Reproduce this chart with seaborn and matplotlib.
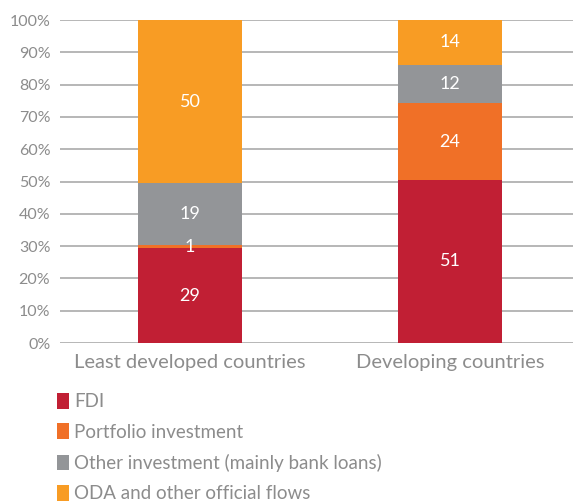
import pandas as pd
import seaborn as sns
import matplotlib.pyplot as plt
from matplotlib.patches import Patch

# data (percent shares)
groups = ["Least developed countries", "Developing countries"]
fdi = [29, 51]
portfolio = [1, 24]
other = [19, 12]
oda = [50, 14]

series = ["FDI", "Portfolio investment", "Other investment (mainly bank loans)",
          "ODA and other official flows"]
colors = ["#c11f34", "#f07027", "#939598", "#f89c24"]

df = pd.DataFrame({"group": groups, series[0]: fdi, series[1]: portfolio,
                   series[2]: other, series[3]: oda})

sns.set_theme(style="white")
plt.rcParams['font.family'] = ['Lato', 'DejaVu Sans']

fig = plt.figure(figsize=(5.73, 5.04), dpi=100)
ax = fig.add_axes([0.1047, 0.3194, 0.8953, 0.6409])

# the bars always fill to 100%, so scale each stack by its total
totals = df[series].sum(axis=1)
bottom = pd.Series([0.0] * len(df))
for name, col in zip(series, colors):
    share = df[name] / totals * 100
    sns.barplot(x=df["group"], y=share, bottom=bottom, color=col, width=0.4,
                saturation=1, edgecolor="none", ax=ax, zorder=3)
    for i, (b, s, v) in enumerate(zip(bottom, share, df[name])):
        ax.text(i, b + s / 2, str(v), ha="center", va="center", color="white",
                fontsize=13, zorder=4)
    bottom = bottom + share

ax.set_xlim(-0.5, 1.473)
ax.set_ylim(0, 100)
ax.set_yticks(range(0, 101, 10))
ax.set_yticklabels([f"{t}%" for t in range(0, 101, 10)])
ax.yaxis.grid(True, color="#a3a3a3", linewidth=1.1, zorder=0)
ax.set_xlabel("")
ax.set_ylabel("")
for s in ax.spines.values():
    s.set_visible(False)
ax.tick_params(axis="y", length=0, pad=7, labelsize=11.5, labelcolor="#8c8c8c")
ax.tick_params(axis="x", length=0, pad=8, labelsize=14.5, labelcolor="#8c8c8c")

handles = [Patch(facecolor=c, edgecolor="none") for c in colors]
leg = fig.legend(handles, series, loc="upper left", bbox_to_anchor=(0.087, 0.235),
                 frameon=False, fontsize=13.5, handlelength=0.6, handleheight=0.9,
                 handletextpad=0.3, labelspacing=0.7, borderaxespad=0)
for t in leg.get_texts():
    t.set_color("#8c8c8c")

plt.savefig("out.png", dpi=100)
